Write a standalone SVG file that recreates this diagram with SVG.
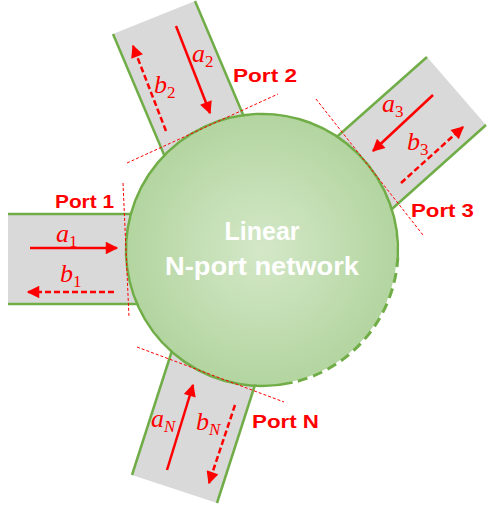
<svg xmlns="http://www.w3.org/2000/svg" width="499" height="507" viewBox="0 0 499 507">
<defs>
<radialGradient id="g" cx="0.5" cy="0.5" r="0.5">
<stop offset="0" stop-color="#d4e8c8"/>
<stop offset="1" stop-color="#b3d5a0"/>
</radialGradient>
<marker id="ah" viewBox="0 0 10 10" refX="9" refY="5" markerWidth="5.5" markerHeight="5" markerUnits="strokeWidth" orient="auto">
<path d="M0,0 L10,5 L0,10 Z" fill="#ff0000"/>
</marker>
<style>
.tl{fill:#d9d9d9;stroke:none}
.edge{stroke:#70ad47;stroke-width:2.5;fill:none}
.dash{stroke-dasharray:10,6;stroke-width:3}
.tan{stroke:#ff0000;stroke-width:1;stroke-dasharray:3,2;fill:none}
.a{stroke:#ff0000;stroke-width:2.5;fill:none;marker-end:url(#ah)}
.b{stroke:#ff0000;stroke-width:2.5;fill:none;stroke-dasharray:6,3;marker-end:url(#ah)}
.pl{font-family:"Liberation Sans",Arial,sans-serif;font-weight:bold;font-size:19px;fill:#ff0000}
.m{font-family:"Liberation Serif","Times New Roman",serif;font-style:italic;font-size:26px;fill:#ff0000}
.s{font-family:"Liberation Serif","Times New Roman",serif;font-size:17px;fill:#ff0000;font-style:normal}
.sn{font-family:"Liberation Serif","Times New Roman",serif;font-size:17px;fill:#ff0000;font-style:italic}
.ct{font-family:"Liberation Sans",Arial,sans-serif;font-weight:bold;font-size:25px;fill:#ffffff}
</style>
</defs>

<g id="port1">
<rect class="tl" x="8" y="214" width="180" height="90"/>
<line class="edge" x1="8" y1="214" x2="188" y2="214"/>
<line class="edge" x1="8" y1="304" x2="188" y2="304"/>
</g>
<g id="port2">
<polygon class="tl" points="113,34 195,1 258,150 176,183"/>
<line class="edge" x1="113" y1="34" x2="176" y2="183"/>
<line class="edge" x1="195" y1="1" x2="258" y2="150"/>
</g>
<g id="port3">
<polygon class="tl" points="427,57 486,125 374,225 322,150"/>
<line class="edge" x1="427" y1="57" x2="322" y2="150"/>
<line class="edge" x1="486" y1="125" x2="374" y2="225"/>
</g>
<g id="portN">
<polygon class="tl" points="132,475 217,503 263,360 178,332"/>
<line class="edge" x1="132" y1="475" x2="178" y2="332"/>
<line class="edge" x1="217" y1="503" x2="263" y2="360"/>
</g>

<g id="network">
<circle cx="262" cy="250" r="135" fill="url(#g)"/>
<path class="edge" d="M292.6,382.5 A136,136 0 1 1 397.8,257.1"/>
<path class="edge dash" d="M397.8,257.1 A136,136 0 0 1 292.6,382.5"/>
<text class="ct" x="262" y="240" text-anchor="middle">Linear</text>
<text class="ct" x="262" y="275" text-anchor="middle" textLength="194" lengthAdjust="spacingAndGlyphs">N-port network</text>
</g>

<g id="connectors">
<line class="tan" x1="123" y1="183" x2="129" y2="317"/>
<line class="tan" x1="127" y1="163" x2="278" y2="94"/>
<line class="tan" x1="316" y1="99" x2="423" y2="235"/>
<line class="tan" x1="137" y1="347" x2="284" y2="402"/>
<line class="a" x1="30" y1="248" x2="117" y2="248"/>
<line class="b" x1="114" y1="292" x2="28" y2="292"/>
<line class="a" x1="176" y1="26" x2="210" y2="113"/>
<line class="b" x1="166" y1="131" x2="133" y2="46"/>
<line class="a" x1="433" y1="95" x2="373" y2="151"/>
<line class="b" x1="401" y1="183" x2="463" y2="127"/>
<line class="a" x1="167" y1="470" x2="193" y2="385"/>
<line class="b" x1="235" y1="405" x2="209" y2="483"/>
</g>

<g id="labels">
<text class="pl" x="55" y="208" textLength="59" lengthAdjust="spacingAndGlyphs">Port 1</text>
<text class="pl" x="233" y="82" textLength="64" lengthAdjust="spacingAndGlyphs">Port 2</text>
<text class="pl" x="411" y="217" textLength="63" lengthAdjust="spacingAndGlyphs">Port 3</text>
<text class="pl" x="252" y="428" textLength="67" lengthAdjust="spacingAndGlyphs">Port N</text>
<text class="m" x="56" y="242">a<tspan class="s" dy="5">1</tspan></text>
<text class="m" x="60" y="282">b<tspan class="s" dy="5">1</tspan></text>
<text class="m" x="192" y="62">a<tspan class="s" dy="5">2</tspan></text>
<text class="m" x="154" y="93">b<tspan class="s" dy="5">2</tspan></text>
<text class="m" x="382" y="112">a<tspan class="s" dy="5">3</tspan></text>
<text class="m" x="407" y="150">b<tspan class="s" dy="5">3</tspan></text>
<text class="m" x="151" y="427">a<tspan class="sn" dy="5">N</tspan></text>
<text class="m" x="196" y="430">b<tspan class="sn" dy="5">N</tspan></text>
</g>
</svg>
